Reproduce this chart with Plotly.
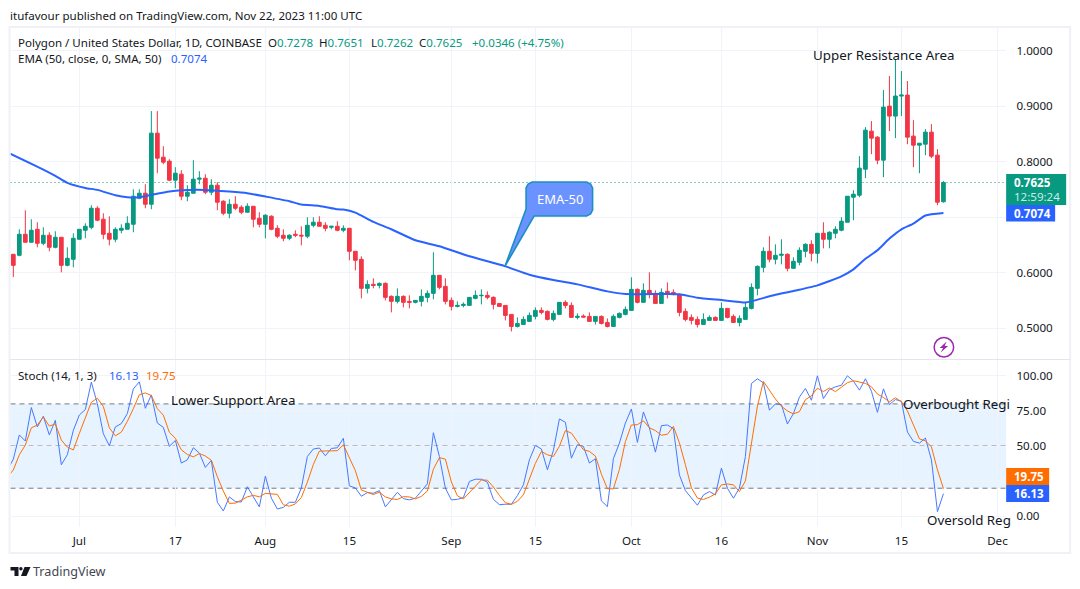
import pandas as pd
import plotly.graph_objects as go

W, H = 1080, 589
FONT = "Noto Sans"
INK = "#131722"
GREEN = "#089981"
RED = "#f23645"
BLUE = "#2962ff"
ORANGE = "#ff6d00"

opens = [.6331,.6313,.6692,.6548,.6782,.6529,.6674,.6457,.6638,.6132,.6241,.6602,.6764,.6818,.7161,.6963,.6710,.6602,.6764,.6782,
 .6872,.7342,.7432,.7233,.8515,.8082,.8010,.7667,.7775,.7378,.7432,.7685,.7703,.7450,.7576,.7288,.7071,.7233,.7179,.7089,
 .7197,.6981,.6872,.7017,.6800,.6674,.6620,.6692,.6674,.6656,.6854,.6909,.6854,.6818,.6836,.6764,.6800,.6385,.6241,.5717,
 .5789,.5771,.5807,.5573,.5483,.5573,.5483,.5465,.5483,.5555,.5627,.5952,.5753,.5501,.5392,.5410,.5410,.5537,.5585,.5591,
 .5555,.5446,.5410,.5248,.5031,.5067,.5122,.5212,.5320,.5302,.5158,.5248,.5465,.5410,.5194,.5218,.5212,.5122,.5212,.5103,
 .5031,.5194,.5248,.5320,.5699,.5465,.5681,.5627,.5446,.5663,.5645,.5609,.5302,.5194,.5158,.5067,.5140,.5194,.5140,.5356,
 .5212,.5103,.5158,.5356,.5717,.6096,.6385,.6241,.6313,.6331,.6078,.6187,.6385,.6511,.6349,.6710,.6602,.6710,.6764,.6909,
 .7360,.7396,.7865,.8551,.8443,.8028,.9002,.8822,.9183,.9201,.8461,.8298,.8316,.8533,.8118,.7278]
highs = [.6331,.6782,.7125,.6963,.6909,.6818,.6728,.6746,.6638,.6457,.6710,.6782,.6890,.7215,.7197,.7071,.7017,.6818,.6872,.7017,
 .7504,.7504,.7594,.8912,.8912,.8280,.8046,.7901,.7847,.7576,.8028,.7829,.7775,.7685,.7631,.7306,.7324,.7378,.7215,.7251,
 .7197,.7089,.7053,.7035,.6854,.6782,.6692,.6764,.6836,.6999,.6999,.7017,.6909,.6836,.6927,.6854,.6800,.6385,.6295,.5862,
 .5898,.5825,.5825,.5591,.5717,.5591,.5591,.5501,.5699,.5681,.6367,.5952,.5898,.5555,.5483,.5465,.5555,.5681,.5699,.5663,
 .5573,.5446,.5410,.5248,.5194,.5212,.5284,.5374,.5374,.5320,.5320,.5465,.5501,.5465,.5266,.5248,.5284,.5212,.5230,.5176,
 .5248,.5284,.5392,.5916,.5717,.5807,.6006,.5681,.5717,.5825,.5699,.5609,.5356,.5248,.5212,.5266,.5230,.5212,.5464,.5356,
 .5248,.5230,.5464,.5807,.6132,.6457,.6656,.6511,.6602,.6349,.6277,.6457,.6530,.6584,.6710,.6909,.6746,.6836,.6999,.7378,
 .7486,.8100,.8623,.8732,.8461,.9291,.9544,.9851,.9634,.9454,.8750,.8334,.8587,.8677,.8226,.7651]
lows = [.5922,.6295,.6548,.6548,.6457,.6493,.6385,.6439,.6006,.6114,.6096,.6602,.6620,.6782,.6927,.6602,.6493,.6548,.6710,.6782,
 .6728,.7324,.7161,.7143,.7793,.7955,.7649,.7522,.7306,.7288,.7432,.7594,.7414,.7396,.7125,.7035,.6981,.7125,.7053,.7089,
 .6818,.6818,.6620,.6764,.6620,.6566,.6584,.6638,.6493,.6620,.6818,.6836,.6746,.6782,.6746,.6728,.6223,.6042,.5537,.5627,
 .5717,.5717,.5501,.5284,.5446,.5374,.5356,.5446,.5392,.5465,.5519,.5699,.5428,.5320,.5374,.5374,.5410,.5519,.5428,.5519,
 .5338,.5392,.5140,.4941,.5013,.5067,.5122,.5158,.5248,.5140,.5122,.5248,.5356,.5194,.5158,.5194,.5122,.5067,.5067,.5013,
 .5031,.5176,.5230,.5320,.5446,.5465,.5537,.5446,.5446,.5537,.5591,.5212,.5122,.5067,.5013,.5067,.5140,.5140,.5140,.5176,
 .5103,.5031,.5158,.5338,.5591,.6006,.6187,.6150,.6150,.6024,.6078,.6132,.6277,.6205,.6168,.6439,.6439,.6620,.6746,.6909,
 .6945,.7360,.7703,.8136,.7955,.7721,.8551,.8425,.8822,.8316,.7901,.7793,.8118,.8064,.7215,.7262]
closes = [.6132,.6692,.6548,.6764,.6529,.6674,.6457,.6638,.6132,.6259,.6620,.6782,.6836,.7161,.6945,.6692,.6602,.6782,.6800,.6890,
 .7378,.7432,.7233,.8515,.8064,.7992,.7667,.7793,.7378,.7450,.7685,.7703,.7450,.7576,.7270,.7071,.7233,.7161,.7089,.7197,
 .6963,.6872,.7035,.6782,.6656,.6620,.6674,.6674,.6662,.6854,.6909,.6836,.6800,.6836,.6764,.6800,.6385,.6223,.5717,.5789,
 .5771,.5807,.5555,.5483,.5573,.5465,.5465,.5501,.5573,.5627,.5952,.5735,.5483,.5392,.5410,.5428,.5555,.5591,.5591,.5555,
 .5428,.5392,.5230,.5031,.5085,.5158,.5230,.5320,.5284,.5158,.5266,.5465,.5410,.5194,.5212,.5200,.5122,.5212,.5085,.5031,
 .5212,.5266,.5338,.5699,.5465,.5681,.5609,.5446,.5645,.5627,.5609,.5284,.5158,.5140,.5067,.5158,.5194,.5140,.5356,.5194,
 .5103,.5176,.5374,.5735,.6114,.6385,.6241,.6313,.6331,.6078,.6205,.6403,.6511,.6349,.6710,.6602,.6728,.6782,.6927,.7378,
 .7414,.7883,.8569,.8425,.8028,.8984,.8822,.9183,.9201,.8443,.8298,.8334,.8533,.8100,.7270,.7625]

first_day = pd.Timestamp("2023-06-20")
days = [first_day + pd.Timedelta(days=i) for i in range(len(closes))]

ema_idx = [-1,5,7,9,12,14,17,19,21,23,26,28,32,36,39,42,46,48,51,54,55,57,60,63,67,71,76,82,86,90,94,99,102,109,111,114,118,122,
           123,127,130,134,138,140,142,144,146,148,150,152,155]
ema_val = [.8170,.7859,.7745,.7619,.7528,.7492,.7396,.7360,.7360,.7402,.7462,.7486,.7492,.7462,.7432,.7372,.7288,.7227,.7203,.7143,
           .7137,.7083,.6915,.6782,.6584,.6475,.6295,.6114,.5964,.5868,.5789,.5663,.5615,.5615,.5609,.5549,.5507,.5464,
           .5483,.5603,.5669,.5771,.5934,.6060,.6250,.6403,.6614,.6782,.6885,.7030,.7074]

stoch_k = [33.0,40.7,57.9,53.6,77.4,63.6,71.2,57.9,68.3,36.7,43.8,61.2,72.1,76.0,95.5,80.2,58.8,50.2,63.6,66.0,73.1,
 90.7,95.7,76.9,86.4,66.4,63.3,49.8,54.0,37.9,40.2,48.8,45.0,34.8,39.8,10.0,3.8,13.8,10.5,10.2,21.0,
 13.6,6.7,28.6,12.9,5.2,6.4,10.0,10.0,20.2,42.6,47.9,48.6,43.1,48.3,48.8,55.5,21.7,20.2,14.3,16.9,
 16.4,18.3,6.7,12.1,17.1,12.6,11.7,12.9,17.9,23.1,59.5,42.6,20.0,11.7,12.1,13.3,24.8,26.4,26.4,24.3,
 12.1,8.3,8.6,8.6,14.8,22.4,40.2,50.5,47.9,33.1,46.9,69.3,66.9,41.4,51.0,49.8,37.9,41.0,11.0,6.9,
 41.0,52.1,66.4,76.4,52.6,74.3,62.9,45.7,64.5,65.0,62.4,29.5,18.3,12.9,7.9,15.2,17.6,15.2,34.3,20.0,
 12.9,20.0,42.6,94.5,97.9,95.0,75.5,80.0,79.5,65.7,73.1,84.8,91.0,82.6,100.0,83.8,90.2,92.1,93.3,100.0,
 96.2,89.8,97.9,89.0,74.0,90.7,79.5,83.1,81.9,60.0,53.3,52.1,55.7,40.2,3.3,16.13]
stoch_d = [28.0,33.0,43.8,50.7,63.0,64.9,70.7,64.2,65.8,54.3,49.3,47.2,59.0,69.8,81.2,84.0,78.2,63.0,57.3,59.9,67.6,
 76.6,86.5,87.8,86.0,76.6,72.0,59.8,55.6,47.3,44.0,42.3,44.7,42.9,39.9,28.2,17.9,9.2,9.4,11.5,13.9,
 14.9,13.9,16.3,16.1,15.6,8.2,7.2,8.8,13.4,24.3,36.9,46.4,46.5,46.7,46.7,50.9,42.0,32.5,18.7,17.1,
 15.5,17.2,13.8,12.4,12.0,14.0,13.8,12.4,14.2,18.0,33.5,41.8,40.7,24.4,14.6,12.4,16.7,21.5,25.9,25.7,
 20.9,14.9,9.7,8.5,10.7,15.3,25.8,37.7,46.2,43.8,42.6,49.8,61.0,59.2,53.1,47.4,46.2,42.9,30.0,19.6,
 19.6,33.3,53.2,65.0,65.2,68.0,63.0,61.0,57.7,58.4,64.0,52.3,36.7,20.2,13.0,12.0,13.6,16.0,22.4,23.0,
 22.4,17.6,25.2,52.4,78.3,96.0,89.5,83.5,78.3,75.0,72.9,74.5,83.0,85.8,91.2,88.8,91.3,88.7,91.9,95.1,
 96.5,95.3,94.6,92.2,87.0,84.6,81.4,84.4,81.5,75.0,65.1,55.1,53.7,49.4,33.1,19.75]
stoch_days = [first_day + pd.Timedelta(days=i - 1) for i in range(len(stoch_k))]

date_ticks = ["2023-07-01","2023-07-17","2023-08-01","2023-08-15","2023-09-01","2023-09-15","2023-10-01","2023-10-16","2023-11-01","2023-11-15","2023-12-01"]
date_labels = ["Jul","17","Aug","15","Sep","15","Oct","16","Nov","15","Dec"]
price_ticks = [0.5,0.6,0.7,0.8,0.9,1.0]
price_labels = ["0.5000","0.6000","","0.8000","0.9000","1.0000"]
stoch_ticks = [0,25,50,75,100]
stoch_labels = ["0.00","","50.00","75.00","100.00"]
stoch_levels = [80,50,20]
last_close = 0.7625

XSCALE = 1.002
def fx(px): return px * XSCALE / W
def fy(py): return 1 - py / H

x_range = [first_day + pd.Timedelta(hours=-11.3), first_day + pd.Timedelta(hours=165.45 * 24)]
X0, X1 = 10.5, 1006

fig = go.Figure()
fig.add_trace(go.Candlestick(
    x=days, open=opens, high=highs, low=lows, close=closes, xaxis="x", yaxis="y", showlegend=False,
    increasing=dict(line=dict(color=GREEN, width=1), fillcolor=GREEN),
    decreasing=dict(line=dict(color=RED, width=1), fillcolor=RED), whiskerwidth=0))
fig.add_trace(go.Scatter(x=[first_day + pd.Timedelta(days=i) for i in ema_idx], y=ema_val, mode="lines",
                         line=dict(color=BLUE, width=2, shape="spline", smoothing=0.5), xaxis="x", yaxis="y", showlegend=False))
fig.add_trace(go.Scatter(x=stoch_days, y=stoch_k, mode="lines", line=dict(color=BLUE, width=1),
                         opacity=0.85, xaxis="x2", yaxis="y2", showlegend=False))
fig.add_trace(go.Scatter(x=stoch_days, y=stoch_d, mode="lines", line=dict(color=ORANGE, width=1),
                         xaxis="x2", yaxis="y2", showlegend=False))

shapes = []
def frame_rect(x0, y0, x1, y1, fill, line=None, width=0, layer="above"):
    shapes.append(dict(type="rect", xref="paper", yref="paper", x0=fx(x0), x1=fx(x1), y0=fy(y0), y1=fy(y1),
                       fillcolor=fill, line=dict(color=line or fill, width=width), layer=layer))

# outer frame and pane separator
frame_rect(9.5, 27, 1070, 553, "rgba(0,0,0,0)", "#eff1f6", 2)
shapes.append(dict(type="line", xref="paper", yref="paper", x0=fx(10), x1=fx(1070), y0=fy(359.5), y1=fy(359.5),
                   line=dict(color="#e6e3ef", width=1.2)))
# stochastic band and levels
shapes.append(dict(type="rect", xref="x2 domain", yref="y2", x0=0, x1=1, y0=stoch_levels[2], y1=stoch_levels[0],
                   fillcolor="rgba(33,150,243,0.11)", line=dict(width=0), layer="below"))
for lv in stoch_levels:
    shapes.append(dict(type="line", xref="x2 domain", yref="y2", x0=0, x1=1, y0=lv, y1=lv,
                       line=dict(color="#787b86", width=1, dash="5px,4px"), layer="below"))
# last price line
shapes.append(dict(type="line", xref="x domain", yref="y", x0=0, x1=1, y0=last_close, y1=last_close,
                   line=dict(color=GREEN, width=1.2, dash="1px,3px"), layer="below"))
# axis tags
frame_rect(1006, 174, 1066, 205, GREEN)
frame_rect(1006, 205, 1055, 221.5, BLUE)
frame_rect(1006, 468, 1049, 485, ORANGE)
frame_rect(1006, 485, 1049, 502, BLUE)

def P(*pts):
    return " ".join(("M" if i == 0 else "L") + f"{fx(a):.5f},{fy(b):.5f}" for i, (a, b) in enumerate(pts)) + " Z"

# callout
L, R, T, B, r = 526, 592.5, 182, 216, 6
callout = [(L + r, T), (R - r, T), (R - 2, T + 2), (R, T + r), (R, B - r), (R - 2, B - 2), (R - r, B), (534, B), (505, 266),
           (L, 209), (L, T + r), (L + 2, T + 2)]
shapes.append(dict(type="path", xref="paper", yref="paper", path=P(*callout), fillcolor="#6b93ff",
                   line=dict(color="#1b8fc4", width=1.6)))
# lightning badge
shapes.append(dict(type="circle", xref="paper", yref="paper", x0=fx(934), x1=fx(953.5), y0=fy(337.5), y1=fy(357),
                   line=dict(color="#9c27b0", width=1.5), fillcolor="white"))
shapes.append(dict(type="path", xref="paper", yref="paper",
                   path=P((946.5, 341.5), (939.5, 348), (943, 348), (940.5, 352.5), (948, 346), (944.5, 346)),
                   fillcolor="#9c27b0", line=dict(width=0)))
# TradingView mark
DARK = "#131722"
shapes.append(dict(type="path", xref="paper", yref="paper",
                   path=P((10.5, 567), (18.5, 567), (18.5, 576), (14.5, 576), (14.5, 570.5), (10.5, 570.5)),
                   fillcolor=DARK, line=dict(width=0)))
shapes.append(dict(type="circle", xref="paper", yref="paper", x0=fx(19.2), x1=fx(22.6), y0=fy(567), y1=fy(570.4),
                   fillcolor=DARK, line=dict(width=0)))
shapes.append(dict(type="path", xref="paper", yref="paper",
                   path=P((24.5, 567), (30.5, 567), (26.5, 576), (21, 576)), fillcolor=DARK, line=dict(width=0)))

anns = []
def text(s, px, py, size=11.55, color=INK, anchor="left"):
    anns.append(dict(text=s, x=fx(px), y=fy(py), xref="paper", yref="paper", xanchor=anchor, yanchor="middle",
                     showarrow=False, font=dict(family=FONT, size=size, color=color), borderpad=0, borderwidth=0))

def col(s, c): return f'<span style="color:{c}">{s}</span>'

text("itufavour published on TradingView.com, Nov 22, 2023 11:00 UTC", 9.5, 15)
text("Polygon / United States Dollar, 1D, COINBASE", 18, 42)
text("O" + col("0.7278", GREEN), 268, 42)
text("H" + col("0.7651", GREEN), 319, 42)
text("L" + col("0.7262", GREEN), 371, 42)
text("C" + col("0.7625", GREEN), 419, 42)
text(col("+0.0346 (+4.75%)", GREEN), 472, 42)
text("EMA (50, close, 0, SMA, 50)", 18, 59)
text(col("0.7074", BLUE), 171, 59)
text("Stoch (14, 1, 3)", 18, 375)
text(col("16.13", BLUE), 109, 375)
text(col("19.75", ORANGE), 146, 375)
text("Upper Resistance Area", 813, 55, 13.35)
text("Lower Support Area", 171, 400, 13.35)
text("Overbought Regi", 903, 404, 13.35)
text("Oversold Reg", 927, 519.5, 13.35)
text("EMA-50", 559.5, 198.5, 13, "white", "center")
text("<b>0.7625</b>", 1014, 183, 11.55, "white")
text("12:59:24", 1014, 197, 11.55, "#cdebe6")
text("<b>0.7074</b>", 1014, 213.5, 11.55, "white")
text("<b>19.75</b>", 1014, 476.5, 11.55, "white")
text("<b>16.13</b>", 1014, 493.5, 11.55, "white")
text("TradingView", 33, 571.5, 12.6, "#434651")

GRID = "#f0f3fa"
TICKF = dict(family=FONT, size=11.6, color=INK)
fig.update_layout(
    width=W, height=H, margin=dict(l=0, r=0, t=0, b=0), paper_bgcolor="white", plot_bgcolor="white",
    boxgap=0.12, font=dict(family=FONT, size=12, color=INK), shapes=shapes, annotations=anns, showlegend=False,
    xaxis=dict(domain=[fx(X0), fx(X1)], range=x_range, type="date", anchor="y", tickvals=date_ticks, ticktext=date_labels,
               showticklabels=False, showgrid=True, gridcolor=GRID, gridwidth=1, zeroline=False,
               rangeslider=dict(visible=False), ticks=""),
    yaxis=dict(domain=[fy(359.5), fy(27)], range=[0.4435, 1.0428], side="right", tickvals=price_ticks, ticktext=price_labels,
               showgrid=True, gridcolor=GRID, zeroline=False, ticks="outside", ticklen=7,
               tickcolor="rgba(0,0,0,0)", anchor="x", tickfont=TICKF),
    xaxis2=dict(domain=[fx(X0), fx(X1)], range=x_range, type="date", anchor="y2", tickvals=date_ticks, ticktext=date_labels,
                tickangle=0, showgrid=True, gridcolor=GRID, gridwidth=1, zeroline=False, ticks="outside", ticklen=3,
                tickcolor="rgba(0,0,0,0)", tickfont=TICKF),
    yaxis2=dict(domain=[fy(527), fy(359.5)], range=[-7.6, 111.6], side="right", tickvals=stoch_ticks, ticktext=stoch_labels,
                showgrid=True, gridcolor=GRID, zeroline=False, ticks="outside", ticklen=7,
                tickcolor="rgba(0,0,0,0)", anchor="x2", tickfont=TICKF),
)
fig.write_html("out.html", config=dict(displayModeBar=False), post_script="document.body.style.margin='0';")
